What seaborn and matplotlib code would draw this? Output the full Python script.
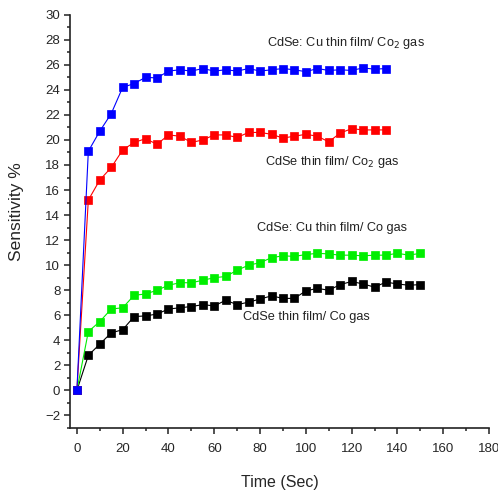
import numpy as np
import pandas as pd
import seaborn as sns
import matplotlib.pyplot as plt
from matplotlib.ticker import MultipleLocator

# -------------- DONNEES -------------------#

temps_co2 = list(range(0, 140, 5))   # 0 .. 135 s
temps_co = list(range(0, 155, 5))    # 0 .. 150 s

cu_co2 = [0, 19.1, 20.7, 22.1, 24.2, 24.5, 25.0, 24.95, 25.5, 25.6, 25.5, 25.7, 25.5, 25.6,
          25.5, 25.7, 25.5, 25.6, 25.7, 25.6, 25.45, 25.7, 25.55, 25.6, 25.55, 25.75, 25.65, 25.7]
cdse_co2 = [0, 15.2, 16.8, 17.8, 19.2, 19.8, 20.1, 19.65, 20.4, 20.3, 19.8, 20.0, 20.4, 20.4,
            20.2, 20.6, 20.6, 20.45, 20.15, 20.3, 20.45, 20.3, 19.85, 20.55, 20.9, 20.8, 20.8, 20.8]
cu_co = [0, 4.7, 5.5, 6.5, 6.6, 7.6, 7.7, 8.0, 8.4, 8.6, 8.6, 8.8, 9.0, 9.1, 9.6, 10.0,
         10.2, 10.6, 10.75, 10.7, 10.85, 10.95, 10.9, 10.8, 10.8, 10.75, 10.8, 10.8, 10.95, 10.8, 10.95]
cdse_co = [0, 2.8, 3.7, 4.6, 4.85, 5.9, 5.95, 6.1, 6.5, 6.6, 6.7, 6.85, 6.75, 7.2, 6.85, 7.05,
           7.3, 7.55, 7.35, 7.35, 7.95, 8.15, 8.0, 8.45, 8.7, 8.5, 8.25, 8.65, 8.5, 8.4, 8.45]

series = [
    ("CdSe thin film/ Co gas", temps_co, cdse_co, "black"),
    ("CdSe: Cu thin film/ Co gas", temps_co, cu_co, "#00ee00"),
    ("CdSe thin film/ Co$_2$ gas", temps_co2, cdse_co2, "#ff0000"),
    ("CdSe: Cu thin film/ Co$_2$ gas", temps_co2, cu_co2, "#0000ff"),
]

# position des etiquettes (x, y) en unites des donnees
etiquettes = [
    ("CdSe thin film/ Co gas", 72.5, 5.9),
    ("CdSe: Cu thin film/ Co gas", 78.5, 13.0),
    ("CdSe thin film/ Co$_2$ gas", 82, 18.2),
    ("CdSe: Cu thin film/ Co$_2$ gas", 83, 27.7),
]

# -------------- FIGURE -------------------#

sns.set_theme(style='ticks')
plt.rcParams['font.family'] = ['Liberation Sans', 'DejaVu Sans']

fig = plt.figure(figsize=(4.98, 4.93), dpi=100)
ax = fig.add_axes([0.1406, 0.1318, 0.8414, 0.8384])

for nom, t, v, couleur in series:
    df = pd.DataFrame({'t': t, 'v': v})
    sns.lineplot(data=df, x='t', y='v', ax=ax, color=couleur, linewidth=0.8,
                 marker='s', markersize=5.3, markeredgecolor=couleur, markeredgewidth=0.5)

for texte, x, y in etiquettes:
    ax.text(x, y, texte, fontsize=9.2, color='#222222', ha='left', va='center')

ax.set_xlim(-3, 180)
ax.set_ylim(-3, 30)
ax.xaxis.set_major_locator(MultipleLocator(20))
ax.xaxis.set_minor_locator(MultipleLocator(10))
ax.yaxis.set_major_locator(MultipleLocator(2))
ax.yaxis.set_minor_locator(MultipleLocator(1))
ax.tick_params(which='major', direction='out', length=4, width=1.1, labelsize=9.5, color='#222222')
ax.tick_params(which='minor', direction='out', length=2.5, width=1.1, color='#222222')
ax.tick_params(axis='x', which='major', pad=7)
ax.tick_params(axis='y', which='major', pad=3)

sns.despine(ax=ax)
for s in ['left', 'bottom']:
    ax.spines[s].set_linewidth(1.2)
    ax.spines[s].set_color('#222222')

ax.set_xlabel("Time (Sec)", fontsize=11.5, labelpad=14)
ax.set_ylabel("Sensitivity %", fontsize=12.5)
ax.yaxis.set_label_coords(-0.11, 0.523)

fig.savefig('out.png', dpi=100)
